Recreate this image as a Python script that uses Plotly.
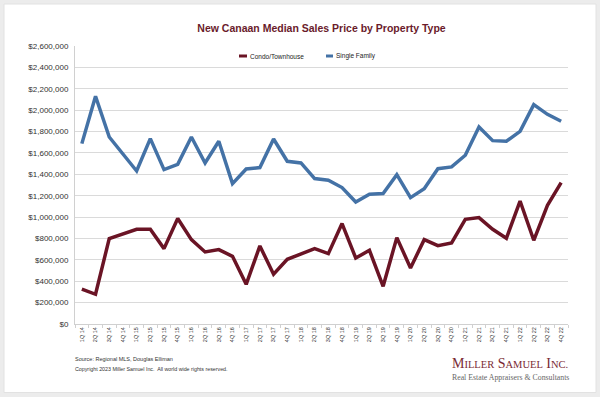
import plotly.graph_objects as go

quarters = [f"{q}Q {y}" for y in range(14, 23) for q in range(1, 5)]

condo = [327000, 278000, 799000, 845000, 886000, 886000, 705000, 986000,
         789000, 674000, 696000, 633000, 371000, 730000, 465000, 605000,
         652000, 705000, 658000, 939000, 617000, 689000, 353000, 808000,
         524000, 789000, 733000, 758000, 979000, 995000, 886000, 802000,
         1150000, 783000, 1110000, 1322000]

single = [1687000, 2130000, 1749000, 1594000, 1431000, 1734000, 1444000, 1494000,
          1749000, 1506000, 1709000, 1313000, 1450000, 1463000, 1730000, 1522000,
          1506000, 1360000, 1344000, 1276000, 1141000, 1213000, 1220000, 1397000,
          1182000, 1266000, 1453000, 1469000, 1578000, 1843000, 1715000, 1709000,
          1802000, 2052000, 1961000, 1896000]

series_names = ["Condo/Townhouse", "Single Family"]
series_colors = ["#6a1425", "#4472a6"]

W, H = 600, 397
L, R, T, B = 75, 32, 46, 73
pw, ph = W - L - R, H - T - B


def px_x(p):
    return (p - L) / pw


def px_y(p):
    return (H - B - p) / ph


fig = go.Figure()
for name, vals, col in zip(series_names, [condo, single], series_colors):
    fig.add_trace(go.Scatter(x=quarters, y=vals, mode="lines", name=name,
                             line=dict(color=col, width=3.5), showlegend=False))

shapes = [
    dict(type="rect", xref="paper", yref="paper", layer="below",
         x0=px_x(4), x1=px_x(596), y0=px_y(392.5), y1=px_y(4),
         fillcolor="white", line=dict(color="#e2e2e2", width=1)),
]
# legend samples
leg_pos = [(239, 247, 248), (326, 333, 334)]
annotations = []
for (a, b, t), name, col in zip(leg_pos, series_names, series_colors):
    shapes.append(dict(type="line", xref="paper", yref="paper",
                       x0=px_x(a), x1=px_x(b), y0=px_y(56), y1=px_y(56),
                       line=dict(color=col, width=3)))
    annotations.append(dict(text=name, xref="paper", yref="paper",
                            x=px_x(t), y=px_y(56), xanchor="left", yanchor="middle",
                            showarrow=False,
                            font=dict(family="Liberation Sans", size=6.5, color="#222")))

annotations += [
    dict(text="Source: Regional MLS, Douglas Elliman", xref="paper", yref="paper",
         x=px_x(72.5), y=px_y(359.3), xanchor="left", yanchor="middle", showarrow=False,
         font=dict(family="Liberation Sans", size=5.5, color="#333")),
    dict(text="Copyright 2023 Miller Samuel Inc.  All world wide rights reserved.",
         xref="paper", yref="paper",
         x=px_x(72.5), y=px_y(369.3), xanchor="left", yanchor="middle", showarrow=False,
         font=dict(family="Liberation Sans", size=5.3, color="#333")),
    dict(text=("M<span style='font-size:10.5px'>ILLER</span> "
               "S<span style='font-size:10.5px'>AMUEL</span> "
               "I<span style='font-size:10.5px'>NC.</span>"),
         xref="paper", yref="paper",
         x=px_x(510), y=px_y(363), xanchor="center", yanchor="middle", showarrow=False,
         font=dict(family="Liberation Serif", size=14, color="#7a2a33")),
    dict(text="Real Estate Appraisers &amp; Consultants",
         xref="paper", yref="paper",
         x=px_x(510), y=px_y(377), xanchor="center", yanchor="middle", showarrow=False,
         font=dict(family="Liberation Serif", size=7.8, color="#666")),
]

fig.update_layout(
    width=W, height=H,
    margin=dict(l=L, r=R, t=T, b=B),
    paper_bgcolor="#ececec",
    plot_bgcolor="white",
    title=dict(text="<b>New Canaan Median Sales Price by Property Type</b>",
               x=0.5, xref="paper", xanchor="center",
               y=1 - 28 / H, yref="container", yanchor="middle",
               font=dict(family="Liberation Sans", size=10.5, color="#6a1b2b")),
    shapes=shapes,
    annotations=annotations,
    showlegend=False,
)
fig.update_xaxes(type="category", range=[-0.5, len(quarters) - 0.5],
                 tickangle=-90, tickfont=dict(family="Liberation Sans", size=5.5, color="#333"),
                 showgrid=False, showline=True, linecolor="#d0d0d0", linewidth=1,
                 ticks="outside", tickson="boundaries", ticklen=3, tickcolor="#d0d0d0")
fig.update_yaxes(range=[0, 2600000], dtick=200000, tickformat="$,.0f",
                 tickfont=dict(family="Liberation Sans", size=8, color="#333"),
                 showgrid=True, gridcolor="#dadada", gridwidth=1,
                 showline=True, linecolor="#d0d0d0", linewidth=1,
                 zeroline=False, ticks="", ticklabelstandoff=4)

fig.write_html("out.html",
               config={"displayModeBar": False},
               post_script="document.body.style.margin='0';"
                           "document.body.style.overflow='hidden';")
